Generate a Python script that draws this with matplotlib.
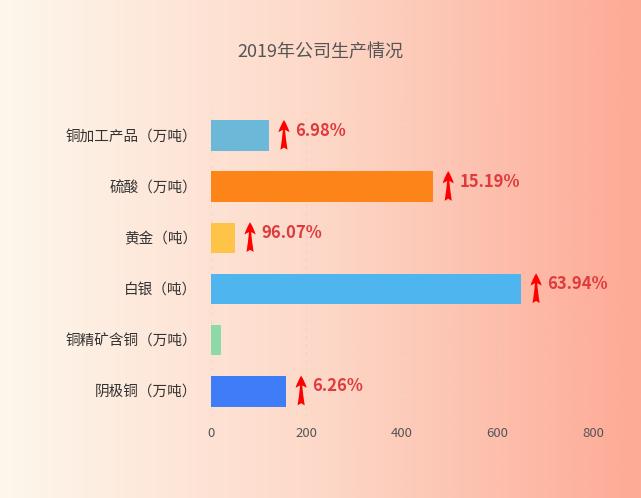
import numpy as np
import matplotlib.pyplot as plt
from matplotlib.colors import LinearSegmentedColormap

plt.rcParams['font.family'] = ['Noto Sans CJK SC', 'DejaVu Sans']

categories = ['铜加工产品（万吨）', '硫酸（万吨）', '黄金（吨）', '白银（吨）', '铜精矿含铜（万吨）', '阴极铜（万吨）']
values = [121, 465, 50, 649, 22, 157]
growth = ['6.98%', '15.19%', '96.07%', '63.94%', None, '6.26%']
colors = ['#6bb8d8', '#fd8419', '#fec448', '#4fb5ef', '#8cdaa8', '#3f7cf8']

fig = plt.figure(figsize=(6.41, 4.98), dpi=100)

# gradient background
bg = fig.add_axes([0, 0, 1, 1], zorder=-1)
cmap = LinearSegmentedColormap.from_list('bg', ['#fef7ec', '#fdd8c8', '#fdaa96'])
bg.imshow(np.linspace(0, 1, 256).reshape(1, -1), aspect='auto', cmap=cmap, extent=[0, 1, 0, 1])
bg.axis('off')

ax = fig.add_axes([0.329, 0.163, 0.596, 0.616])
ax.patch.set_alpha(0)
y = np.arange(len(categories))
ax.barh(y, values, height=0.6, color=colors, zorder=2)
ax.set_xlim(0, 800)
ax.set_ylim(len(categories) - 0.5, -0.5)
ax.set_yticks(y)
ax.set_yticklabels(categories, fontsize=10.5, color='#333333')
ax.set_xticks([0, 200, 400, 600, 800])
ax.tick_params(axis='both', length=0)
ax.tick_params(axis='y', pad=10)
ax.tick_params(axis='x', pad=7, labelsize=9.5, labelcolor='#555555')
for s in ax.spines.values():
    s.set_visible(False)
ax.grid(axis='x', linestyle=(0, (3, 4)), color='#e6c2b2', linewidth=0.8, alpha=0.35, zorder=0)

for i, (v, g) in enumerate(zip(values, growth)):
    if g is None:
        continue
    ax.annotate('', xy=(v + 32, i - 0.36), xytext=(v + 32, i + 0.33),
                arrowprops=dict(arrowstyle='fancy,head_length=0.55,head_width=0.5,tail_width=0.32',
                                mutation_scale=16, color='#ff0000', lw=0), zorder=3)
    ax.text(v + 56, i - 0.1, g, color='#df3b3d', fontsize=12, fontweight='bold', va='center', ha='left')

fig.text(0.5, 0.895, '2019年公司生产情况', ha='center', va='center', fontsize=13, color='#555555')

fig.savefig('out.png', dpi=100)
